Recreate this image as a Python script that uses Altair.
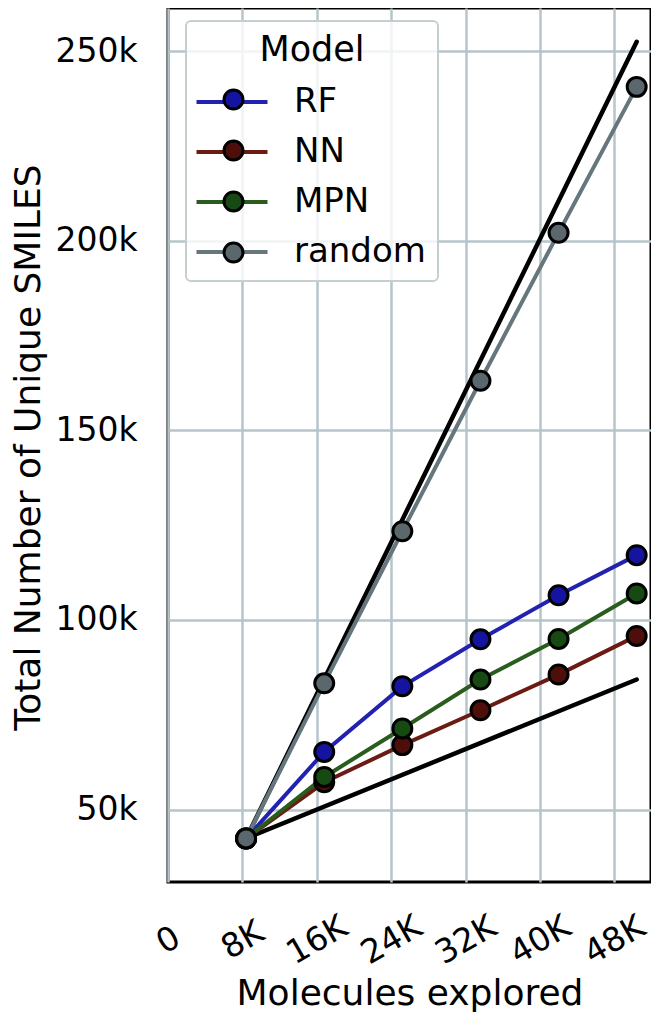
import altair as alt
import pandas as pd

models = ["RF", "NN", "MPN", "random"]
explored = [8400, 16800, 25200, 33600, 42000, 50400]
rf_vals = [42400, 65200, 82500, 94900, 106500, 117100]
nn_vals = [42400, 57200, 67000, 76200, 85600, 95800]
mpn_vals = [42400, 58600, 71400, 84300, 95000, 107000]
random_vals = [42400, 83300, 123400, 163100, 202100, 240600]

bound_names = ["upper", "lower"]
bound_x = [8400, 50400]
upper_vals = [42400, 252500]
lower_vals = [42400, 84300]

line_colors = ["#2222b0", "#6a1c14", "#2a5c1e", "#66767d"]
fill_colors = ["#1414a0", "#4e0e0a", "#174a12", "#5a676d"]

x_ticks = [0, 8000, 16000, 24000, 32000, 40000, 48000]
y_ticks = [50000, 100000, 150000, 200000, 250000]

# separate keys for the marker legend so it is not merged with the line legend
marker_keys = ["m_" + m for m in models]

rows = []
for m, mk, vals in zip(models, marker_keys, [rf_vals, nn_vals, mpn_vals, random_vals]):
    for xv, yv in zip(explored, vals):
        rows.append({"Model": m, "Marker": mk, "x": xv, "y": yv})
df = pd.DataFrame(rows)

brows = []
for b, vals in zip(bound_names, [upper_vals, lower_vals]):
    for xv, yv in zip(bound_x, vals):
        brows.append({"b": b, "x": xv, "y": yv})
bounds = pd.DataFrame(brows)

FONT = "DejaVu Sans"

x_enc = alt.X(
    "x:Q",
    scale=alt.Scale(domain=[0, 51940], nice=False, zero=False),
    axis=alt.Axis(
        values=x_ticks,
        labelExpr="datum.value == 0 ? '0' : (datum.value / 1000) + 'K'",
        labelAngle=-30,
        labelAlign="center",
        labelBaseline="middle",
        labelPadding=58,
        title="Molecules explored",
        titleY=122,
        titleBaseline="alphabetic",
    ),
)
y_enc = alt.Y(
    "y:Q",
    scale=alt.Scale(domain=[30900, 261400], nice=False, zero=False),
    axis=alt.Axis(
        values=y_ticks,
        labelExpr="(datum.value / 1000) + 'k'",
        labelPadding=31,
        title="Total Number of Unique SMILES",
        titleX=-129,
        titleY=439,
        titleAngle=270,
        titleAlign="center",
        titleBaseline="alphabetic",
    ),
)

bound_layer = alt.Chart(bounds).mark_line(
    color="black", strokeWidth=4.5, strokeCap="round"
).encode(x=x_enc, y=y_enc, detail="b:N")

line_layer = alt.Chart(df).mark_line(strokeWidth=4).encode(
    x=x_enc,
    y=y_enc,
    color=alt.Color(
        "Model:N",
        scale=alt.Scale(domain=models, range=line_colors),
        legend=alt.Legend(
            title="Model",
            orient="none",
            legendX=18,
            legendY=13,
            padding=12,
            titleAnchor="middle",
            titleFont=FONT,
            titleFontSize=35,
            titleFontWeight="normal",
            titleColor="black",
            titlePadding=17,
            labelFont=FONT,
            labelFontSize=34,
            labelColor="black",
            labelOffset=45,
            rowPadding=16,
            symbolType="M-3,0L3,0",
            symbolSize=560,
            symbolStrokeWidth=4,
            symbolOffset=17,
            cornerRadius=5,
            strokeColor="#c5ced1",
            fillColor="rgba(255,255,255,0.8)",
            zindex=1,
        ),
    ),
)

point_layer = alt.Chart(df).mark_point(
    filled=True, size=360, stroke="black", strokeWidth=3, opacity=1
).encode(
    x=x_enc,
    y=y_enc,
    fill=alt.Fill(
        "Marker:N",
        scale=alt.Scale(domain=marker_keys, range=fill_colors),
        legend=alt.Legend(
            title=None,
            orient="none",
            legendX=18,
            legendY=63,
            padding=12,
            labelExpr="''",
            labelFontSize=33,
            labelOffset=0,
            rowPadding=17,
            symbolType="circle",
            symbolSize=360,
            symbolStrokeColor="black",
            symbolStrokeWidth=3,
            symbolOffset=19,
            zindex=2,
        ),
    ),
)

chart = (
    alt.layer(bound_layer, line_layer, point_layer)
    .properties(
        width=483,
        height=874,
        autosize=alt.AutoSizeParams(type="none"),
        padding={"left": 160, "top": 0, "right": 0, "bottom": 130},
    )
    .configure_view(stroke="black", strokeWidth=3)
    .configure_axis(
        grid=True,
        gridColor="#b5c5c9",
        gridWidth=2.5,
        gridOpacity=1,
        domain=False,
        ticks=False,
        tickSize=0,
        labelFont=FONT,
        labelFontSize=33,
        labelColor="black",
        titleFont=FONT,
        titleFontSize=36,
        titleFontWeight="normal",
        titleColor="black",
    )
    .configure_legend(strokeWidth=2)
)

chart.save("out.html", embed_options={"renderer": "svg", "actions": False})
